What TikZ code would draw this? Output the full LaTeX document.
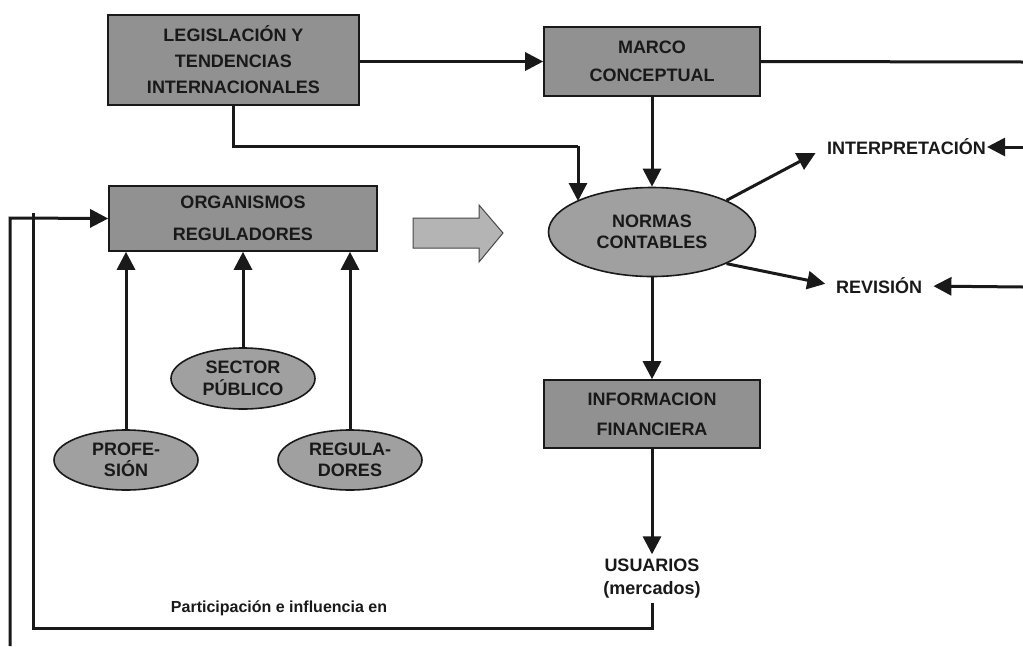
\documentclass[tikz,border=0pt]{standalone}
\usepackage{fontspec}
\setmainfont{Liberation Sans}
\usetikzlibrary{arrows.meta,shapes.geometric}
\definecolor{boxfill}{RGB}{145,145,145}
\definecolor{ellfill}{RGB}{160,160,160}
\definecolor{bigarrow}{RGB}{180,180,180}
\definecolor{ink}{RGB}{25,25,25}
\begin{document}
\begin{tikzpicture}[x=1pt,y=-1pt,
  conn/.style={line width=3pt, draw=ink},
  arr/.style={conn, -{Triangle[length=18pt,width=18pt]}},
  box/.style={draw=ink, line width=1.6pt, fill=boxfill, inner sep=0pt, align=center, text=ink,
    font=\bfseries\fontsize{18}{#1}\selectfont},
  box/.default=28,
  oval/.style={ellipse, draw=ink, line width=1.6pt, fill=ellfill, inner sep=0pt, align=center, text=ink,
    font=\bfseries\fontsize{18}{21.5}\selectfont},
  lbl/.style={inner sep=0pt, align=center, text=ink, font=\bfseries\fontsize{18}{23}\selectfont}
]
\fill[white] (0,0) rectangle (1023,646);
\useasboundingbox (0,0) rectangle (1023,646);

% boxes
\node[box=26, minimum width=251pt, minimum height=90pt] (legis) at (233.5,60) {LEGISLACIÓN Y\\TENDENCIAS\\INTERNACIONALES};
\node[box=28, minimum width=216pt, minimum height=69pt] (marco) at (652,61.5) {MARCO\\CONCEPTUAL};
\node[box=32, minimum width=268pt, minimum height=65pt] (org) at (243,218.5) {ORGANISMOS\\REGULADORES};
\node[box=30, minimum width=216pt, minimum height=68pt] (info) at (652,414) {INFORMACION\\FINANCIERA};

% ellipses
\node[oval, minimum width=207pt, minimum height=89pt] (normas) at (652,232) {NORMAS\\CONTABLES};
\node[oval, minimum width=144pt, minimum height=61pt] (sector) at (243,378.5) {SECTOR\\PÚBLICO};
\node[oval, minimum width=144pt, minimum height=60pt] (prof) at (126,460) {PROFE-\\SIÓN};
\node[oval, minimum width=144pt, minimum height=60pt] (regul) at (350,460) {REGULA-\\DORES};

% plain labels
\node[lbl, anchor=west] (interp) at (827,147) {INTERPRETACIÓN};
\node[lbl, anchor=west] (rev) at (836,286) {REVISIÓN};
\node[lbl, minimum height=48pt] (usu) at (652,578.5) {USUARIOS\\(mercados)};
\node[inner sep=0pt, text=ink, font=\bfseries\fontsize{16}{19}\selectfont] (part) at (279,608) {Participación e influencia en};

% block arrow
\filldraw[fill=bigarrow, draw=ink!80, line width=1pt]
  (413,218) -- (479,218) -- (479,205) -- (503,233) -- (479,262) -- (479,248) -- (413,248) -- cycle;

% coordinates
\coordinate (lbend) at (578,146);
\coordinate (lhit) at (578,201);
\coordinate (redge1) at (1023,62);
\coordinate (redge2) at (1023,147);
\coordinate (redge3) at (1023,287);
\coordinate (outbot) at (10,646);
\coordinate (outtop) at (10,218);
\coordinate (inbot1) at (652,628);
\coordinate (inbot2) at (33,628);
\coordinate (intop) at (33,213);

% connectors
\draw[arr] (legis.east |- marco.west) -- (marco.west);
\draw[conn] (marco.east) -- (redge1);
\draw[conn] (legis.south) |- (lbend);
\draw[arr] (lbend) -- (lhit);
\draw[arr] (marco.south) -- (normas.north);
\draw[arr, shorten >=13pt] (normas.23) -- (interp.west);
\draw[arr, shorten >=11pt] (normas.-23) -- (rev.west);
\draw[arr] (redge2) -- ([xshift=1pt]interp.east);
\draw[arr, shorten >=11pt] (redge3) -- (rev.east);
\draw[arr] (normas.south) -- (info.north);
\draw[arr] (info.south) -- (usu.north);

\draw[arr] (prof.north) -- (prof.north |- org.south);
\draw[arr] (sector.north) -- (sector.north |- org.south);
\draw[arr] (regul.north) -- (regul.north |- org.south);

\draw[arr] (outbot) -- (outtop) -- (org.west);
\draw[conn] (usu.south) -- (inbot1) -- (inbot2) -- (intop);
\end{tikzpicture}
\end{document}
